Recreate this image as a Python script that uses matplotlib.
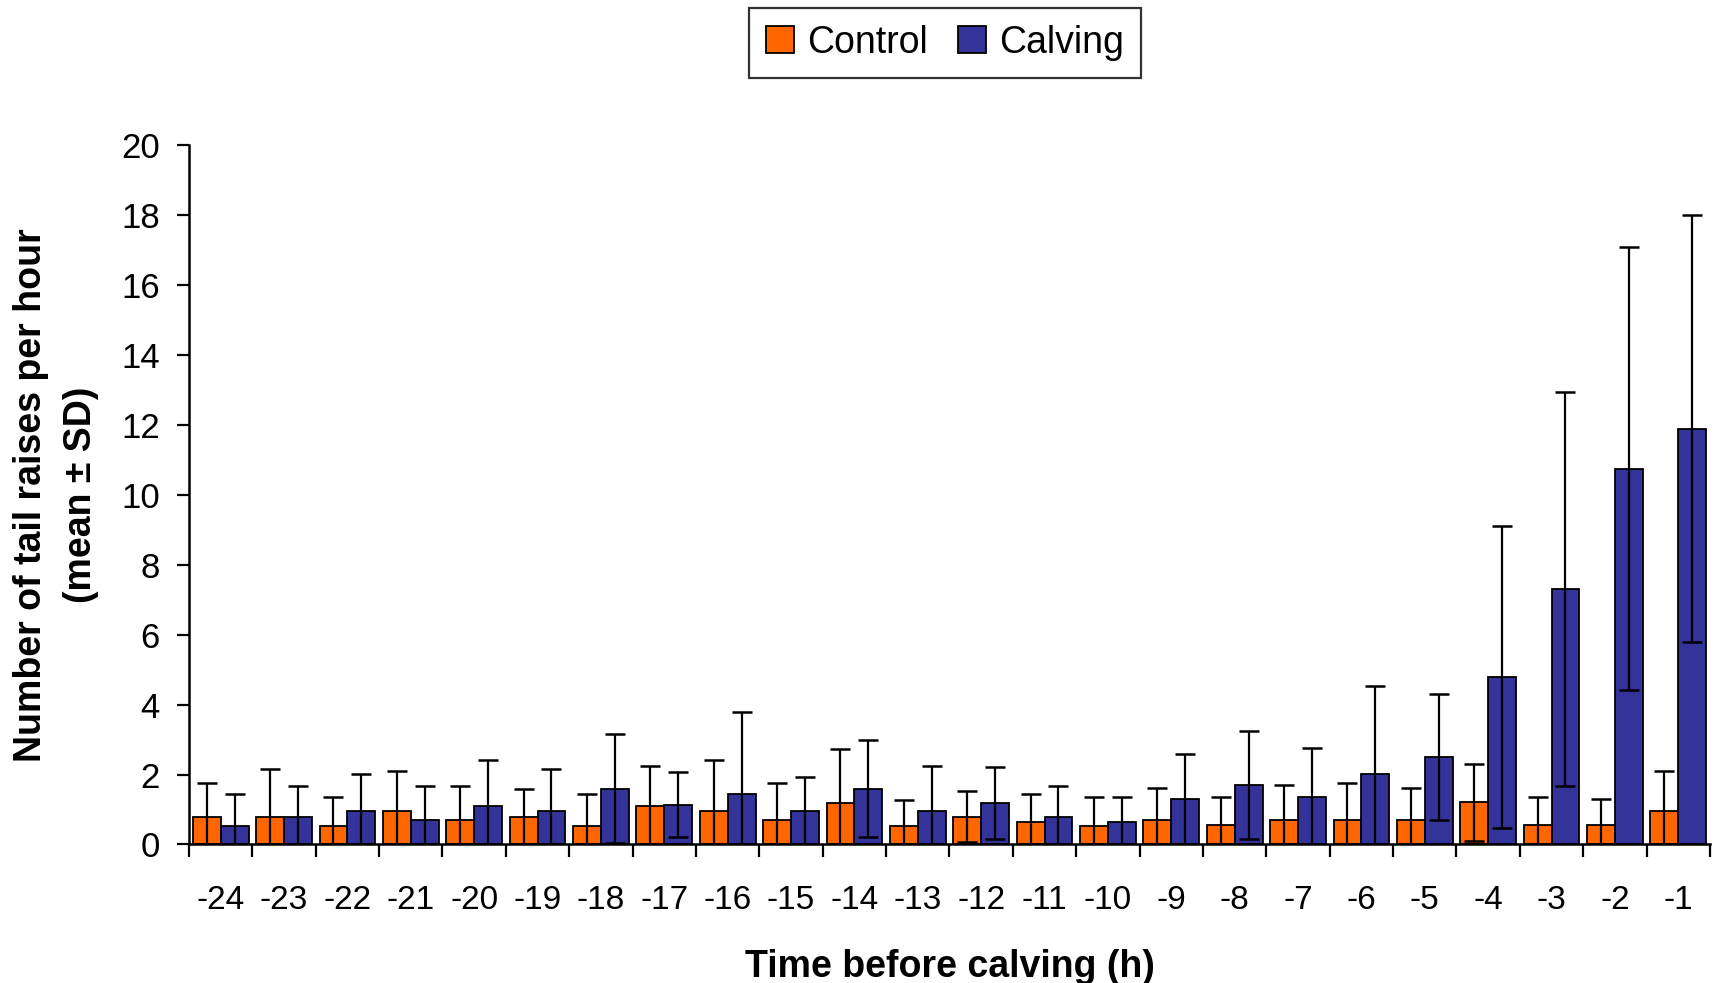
import numpy as np
import matplotlib
matplotlib.use("Agg")
import matplotlib.pyplot as plt

plt.rcParams['font.family'] = ['Liberation Sans', 'DejaVu Sans']

# horas antes do parto
horas = ["-24", "-23", "-22", "-21", "-20", "-19", "-18", "-17", "-16", "-15", "-14", "-13",
         "-12", "-11", "-10", "-9", "-8", "-7", "-6", "-5", "-4", "-3", "-2", "-1"]

# media e desvio padrao - controle
controle_media = [0.79, 0.79, 0.54, 0.95, 0.70, 0.79, 0.54, 1.11, 0.95, 0.70, 1.19, 0.54,
                  0.80, 0.63, 0.54, 0.71, 0.55, 0.71, 0.71, 0.71, 1.21, 0.55, 0.55, 0.96]
controle_dp = [0.97, 1.38, 0.81, 1.15, 0.98, 0.80, 0.90, 1.14, 1.46, 1.06, 1.54, 0.74,
               0.74, 0.81, 0.81, 0.90, 0.82, 0.99, 1.06, 0.90, 1.10, 0.82, 0.74, 1.14]

# media e desvio padrao - parto
parto_media = [0.54, 0.79, 0.95, 0.70, 1.11, 0.95, 1.60, 1.14, 1.44, 0.95, 1.60, 0.95,
               1.19, 0.79, 0.63, 1.29, 1.70, 1.37, 2.02, 2.50, 4.79, 7.31, 10.75, 11.89]
parto_dp = [0.90, 0.89, 1.06, 0.98, 1.30, 1.22, 1.55, 0.92, 2.36, 0.97, 1.38, 1.30,
            1.02, 0.89, 0.72, 1.29, 1.54, 1.38, 2.51, 1.80, 4.31, 5.64, 6.34, 6.10]

fig = plt.figure(figsize=(17.21, 9.83), dpi=100)
ax = fig.add_axes([0.1098, 0.1409, 0.8838, 0.7116])

x = np.arange(len(horas))
larg = 0.44
b1 = ax.bar(x - larg/2, controle_media, larg, color="#FF6600", edgecolor="black",
            linewidth=1.3, label="Control", zorder=2)
b2 = ax.bar(x + larg/2, parto_media, larg, color="#333399", edgecolor="black",
            linewidth=1.3, label="Calving", zorder=2)
ax.errorbar(x - larg/2, controle_media, yerr=controle_dp, fmt="none", ecolor="black",
            elinewidth=1.6, capsize=7, capthick=1.8, zorder=3)
ax.errorbar(x + larg/2, parto_media, yerr=parto_dp, fmt="none", ecolor="black",
            elinewidth=1.6, capsize=7, capthick=1.8, zorder=3)

ax.set_xlim(-0.5, len(horas) - 0.5)
ax.set_ylim(0, 20)
ax.set_yticks(np.arange(0, 21, 2))
ax.set_xticks(x)
ax.set_xticklabels(horas)
ax.set_xticks(np.arange(-0.5, len(horas), 1), minor=True)
ax.tick_params(axis="x", which="major", length=0, pad=29, labelsize=24)
ax.tick_params(axis="x", which="minor", length=9, width=1.6, direction="out")
ax.tick_params(axis="y", length=9, width=1.6, labelsize=25, pad=12)

for lado in ["top", "right"]:
    ax.spines[lado].set_visible(False)
for lado in ["left", "bottom"]:
    ax.spines[lado].set_linewidth(1.8)

ax.set_ylabel("Number of tail raises per hour\n(mean \u00b1 SD)", fontsize=27,
              fontweight="bold", labelpad=16, linespacing=1.5)
ax.set_xlabel("Time before calving (h)", fontsize=27, fontweight="bold", labelpad=24)

leg = fig.legend(handles=[b1, b2], loc="upper center", bbox_to_anchor=(0.549, 1.011), ncol=2,
                 fontsize=27, frameon=True, fancybox=False, edgecolor="black",
                 handlelength=0.75, handleheight=0.75, handletextpad=0.35, columnspacing=0.8,
                 borderpad=0.45)
leg.get_frame().set_linewidth(1.6)

fig.savefig("out.png", dpi=100)
